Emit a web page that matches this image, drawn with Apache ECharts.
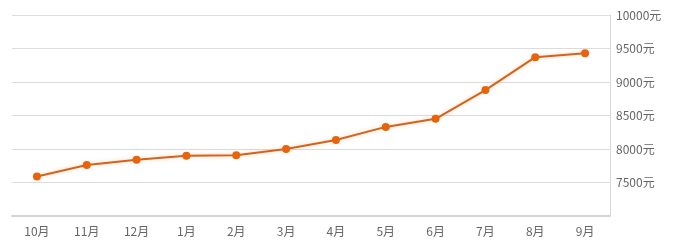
<!DOCTYPE html>
<html><head><meta charset="utf-8">
<script src="https://cdn.jsdelivr.net/npm/echarts@6/dist/echarts.min.js"></script>
<style>html,body{margin:0;padding:0;background:#fff}#c{width:683px;height:250px}</style>
</head><body><div id="c"></div>
<script>
const categories = ['10月','11月','12月','1月','2月','3月','4月','5月','6月','7月','8月','9月'];
const prices = [7590, 7760, 7840, 7900, 7905, 8000, 8135, 8330, 8450, 8880, 9370, 9430];
const unit = '元';

const chart = echarts.init(document.getElementById('c'));
chart.setOption({
  backgroundColor: '#fff',
  animation: false,
  grid: {left: 12, right: 73, top: 15, bottom: 34},
  xAxis: {
    type: 'category', data: categories, boundaryGap: true,
    axisLine: {lineStyle: {color: '#d4d4d4', width: 2}},
    axisTick: {alignWithLabel: true, length: 3, lineStyle: {color: '#d4d4d4'}},
    axisLabel: {color: '#666', fontSize: 12, margin: 9, fontFamily: 'Noto Sans CJK SC'}
  },
  yAxis: {
    type: 'value', position: 'right', min: 7000, max: 10000, interval: 500,
    axisLine: {show: true, lineStyle: {color: '#d8d8d8'}},
    axisTick: {show: false},
    splitLine: {lineStyle: {color: '#dcdcdc'}},
    axisLabel: {color: '#666', fontSize: 12, margin: 6, showMinLabel: false,
      fontFamily: 'Noto Sans CJK SC', formatter: v => v + unit}
  },
  series: [{
    type: 'line', data: prices, symbol: 'circle', symbolSize: 8,
    itemStyle: {color: '#e8630a'},
    lineStyle: {color: '#d5621c', width: 2, shadowColor: 'rgba(240,140,40,0.35)', shadowBlur: 4}
  }]
});
</script></body></html>
